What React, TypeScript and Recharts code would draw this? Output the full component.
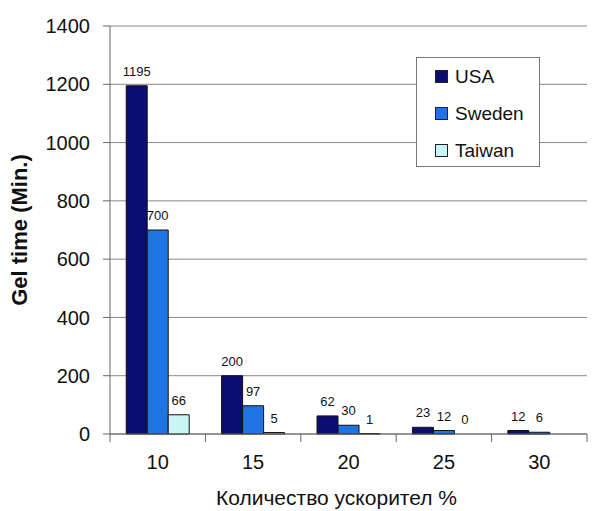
import React from "react";
import { Bar, BarChart, CartesianGrid, LabelList, Legend, Rectangle, XAxis, YAxis } from "recharts";

const categories = ["10", "15", "20", "25", "30"];
const usa = [1195, 200, 62, 23, 12];
const sweden = [700, 97, 30, 12, 6];
const taiwan: Array<number | null> = [66, 5, 1, 0, null];
const yTicks = [0, 200, 400, 600, 800, 1000, 1200, 1400];

const seriesNames = ["USA", "Sweden", "Taiwan"];
const colors = ["#0c0c72", "#1f74e4", "#c9f5f5"];

const data = categories.map((c, i) => ({
  cat: c,
  USA: usa[i],
  Sweden: sweden[i],
  Taiwan: taiwan[i],
}));

const FONT = "'Liberation Sans', Arial, sans-serif";
const AXIS = "#666";

function XTick(props: any) {
  const { x, y, payload, index, visibleTicksCount } = props;
  const off = payload?.offset ?? 0;
  return (
    <g>
      <line x1={x - off} x2={x - off} y1={y} y2={y + 8} stroke={AXIS} />
      {index === visibleTicksCount - 1 && (
        <line x1={x + off} x2={x + off} y1={y} y2={y + 8} stroke={AXIS} />
      )}
      <text x={x} y={y + 35} textAnchor="middle" fontSize={20} fill="#111" fontFamily={FONT}>
        {payload.value}
      </text>
    </g>
  );
}

function LegendBox() {
  return (
    <div
      style={{
        width: 124,
        height: 110,
        boxSizing: "border-box",
        border: "1px solid #777",
        background: "#fff",
        paddingTop: 0,
        fontFamily: FONT,
      }}
    >
      {seriesNames.map((name, i) => (
        <div key={name} style={{ display: "flex", alignItems: "center", height: 37, paddingLeft: 18 }}>
          <span
            style={{
              width: 11,
              height: 11,
              background: colors[i],
              border: "1px solid #222",
              display: "inline-block",
              marginRight: 7,
            }}
          />
          <span style={{ fontSize: 19, color: "#111" }}>{name}</span>
        </div>
      ))}
    </div>
  );
}

// zero-valued bars get a tiny min size so their label is drawn, but no rectangle
function BarShape(props: any) {
  const key = props.dataKey;
  if (props.payload && props.payload[key] === 0) return <g />;
  return <Rectangle {...props} />;
}

export default function App() {
  return (
    <div style={{ position: "absolute", left: 0, top: 0, width: 592, height: 511, background: "#fff" }}>
      <BarChart
        width={592}
        height={511}
        data={data}
        margin={{ top: 26, right: 5, bottom: 0, left: 0 }}
        barGap={0}
        barCategoryGap="17%"
        style={{ fontFamily: FONT }}
      >
        <CartesianGrid vertical={false} stroke="#888" />
        <XAxis
          dataKey="cat"
          height={77}
          tickLine={false}
          tickSize={0}
          tickMargin={0}
          axisLine={{ stroke: AXIS }}
          tick={<XTick />}
          interval={0}
          label={{
            content: (p: any) => {
              const vb = p.viewBox || {};
              return (
                <text
                  x={vb.x + vb.width / 2 - 12}
                  y={505}
                  textAnchor="middle"
                  fontSize={21}
                  fill="#111"
                  fontFamily={FONT}
                >
                  Количество ускорител %
                </text>
              );
            },
          }}
        />
        <YAxis
          width={110}
          domain={[0, 1400]}
          ticks={yTicks}
          interval={0}
          tickSize={7}
          tickMargin={13}
          tickLine={{ stroke: AXIS }}
          axisLine={{ stroke: AXIS }}
          tick={{ fontSize: 20, fill: "#111", fontFamily: FONT }}
          label={{
            content: (p: any) => {
              const vb = p.viewBox || {};
              const cy = vb.y + vb.height / 2;
              return (
                <text
                  x={27}
                  y={cy}
                  transform={`rotate(-90 27 ${cy})`}
                  textAnchor="middle"
                  fontSize={22}
                  fontWeight="bold"
                  fill="#111"
                  fontFamily={FONT}
                >
                  Gel time (Min.)
                </text>
              );
            },
          }}
        />
        <Legend
          layout="vertical"
          align="center"
          verticalAlign="middle"
          content={<LegendBox />}
          wrapperStyle={{ position: "absolute", left: 416, top: 57, width: 124, height: 110 }}
        />
        {seriesNames.map((name, i) => (
          <Bar
            key={name}
            dataKey={name}
            fill={colors[i]}
            stroke="#111"
            strokeWidth={1}
            minPointSize={0.5}
            shape={<BarShape dataKey={name} />}
            isAnimationActive={false}
          >
            <LabelList dataKey={name} position="top" offset={10} fontSize={13} fill="#111" fontFamily={FONT} />
          </Bar>
        ))}
      </BarChart>
    </div>
  );
}
